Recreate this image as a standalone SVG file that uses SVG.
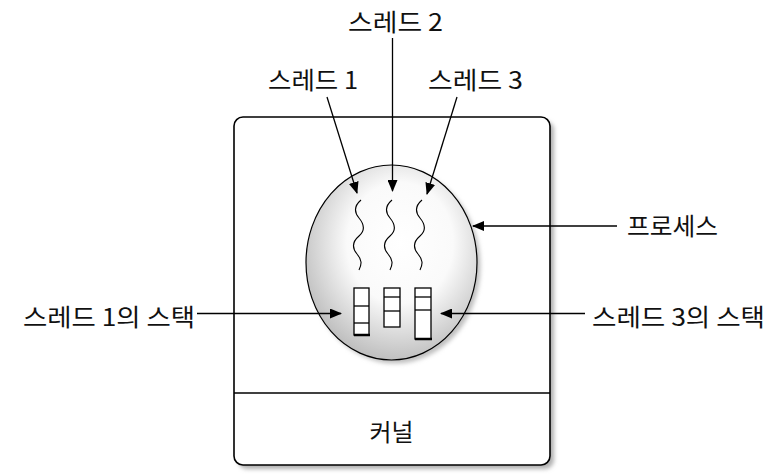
<svg xmlns="http://www.w3.org/2000/svg" width="771" height="475" viewBox="0 0 771 475">
<defs>
<style>
.lbl{font-family:"Noto Sans CJK KR","Liberation Sans",sans-serif;font-size:24px;fill:#111}
.conn{stroke:#000;stroke-width:1.3;fill:none}
.wave{stroke:#000;stroke-width:1.1;fill:none}
.stk{fill:#fff;stroke:#000;stroke-width:1.3}
</style>
<marker id="ah" markerWidth="12" markerHeight="10" refX="11" refY="5" orient="auto" markerUnits="userSpaceOnUse">
<path d="M0,0 L12,5 L0,10 Z" fill="#000"/>
</marker>
<radialGradient id="eg" cx="0.55" cy="0.4" r="0.62">
<stop offset="0" stop-color="#ffffff"/>
<stop offset="0.5" stop-color="#fafafa"/>
<stop offset="1" stop-color="#bcbcbc"/>
</radialGradient>
<filter id="blur" x="-10%" y="-10%" width="120%" height="120%">
<feGaussianBlur stdDeviation="2"/>
</filter>
</defs>
<rect width="771" height="475" fill="#fff"/>
<g id="box">
<rect x="238" y="121" width="316" height="348" rx="9" fill="#b0b0b0" filter="url(#blur)"/>
<rect x="234" y="117" width="316" height="348" rx="9" fill="#fff" stroke="#000" stroke-width="1.6"/>
<line x1="234" y1="393" x2="550" y2="393" stroke="#000" stroke-width="1.6"/>
</g>
<g id="kernel">
<text class="lbl" x="391.5" y="441" text-anchor="middle" textLength="44" lengthAdjust="spacingAndGlyphs">커널</text>
</g>
<g id="process">
<ellipse cx="395" cy="266" rx="85.5" ry="97.5" fill="#c0c0c0" filter="url(#blur)"/>
<ellipse cx="391.5" cy="262.5" rx="85.5" ry="97.5" fill="url(#eg)" stroke="#000" stroke-width="1.2"/>
</g>
<g id="threads">
<path class="wave" d="M361,200 c-7,6 -7,12 -2,18 s7,12 0,18 s-7,12 -2,18 s5,10 2,16"/>
<path class="wave" d="M392,200 c-7,6 -7,12 -2,18 s7,12 0,18 s-7,12 -2,18 s5,10 2,16"/>
<path class="wave" d="M422,200 c-7,6 -7,12 -2,18 s7,12 0,18 s-7,12 -2,18 s5,10 2,16"/>
</g>
<g id="stacks">
<rect class="stk" x="354" y="288" width="15" height="47"/>
<line x1="354" y1="335" x2="370" y2="335" stroke="#000" stroke-width="2.5"/>
<line x1="354" y1="306" x2="369" y2="306" stroke="#000" stroke-width="1.3"/>
<line x1="354" y1="323" x2="369" y2="323" stroke="#000" stroke-width="1.3"/>
<rect class="stk" x="384" y="288" width="16" height="39"/>
<line x1="384" y1="297" x2="400" y2="297" stroke="#000" stroke-width="1.3"/>
<line x1="384" y1="311" x2="400" y2="311" stroke="#000" stroke-width="1.3"/>
<rect class="stk" x="415" y="288" width="16" height="51"/>
<line x1="415" y1="339" x2="432" y2="339" stroke="#000" stroke-width="2.5"/>
<line x1="415" y1="297" x2="431" y2="297" stroke="#000" stroke-width="1.3"/>
<line x1="415" y1="310" x2="431" y2="310" stroke="#000" stroke-width="1.3"/>
</g>
<g id="connectors">
<line class="conn" x1="327" y1="97" x2="357" y2="193" marker-end="url(#ah)"/>
<line class="conn" x1="392.5" y1="38" x2="392.5" y2="191" marker-end="url(#ah)"/>
<line class="conn" x1="457" y1="97" x2="427" y2="194" marker-end="url(#ah)"/>
<line class="conn" x1="617" y1="226" x2="473" y2="226" marker-end="url(#ah)"/>
<line class="conn" x1="197" y1="313.5" x2="341" y2="313.5" marker-end="url(#ah)"/>
<line class="conn" x1="585" y1="313.5" x2="441" y2="313.5" marker-end="url(#ah)"/>
</g>
<g id="label-thread2"><text class="lbl" x="348" y="31" textLength="95" lengthAdjust="spacingAndGlyphs">스레드 2</text></g>
<g id="label-thread1"><text class="lbl" x="268" y="89" textLength="90" lengthAdjust="spacingAndGlyphs">스레드 1</text></g>
<g id="label-thread3"><text class="lbl" x="428" y="89" textLength="95" lengthAdjust="spacingAndGlyphs">스레드 3</text></g>
<g id="label-process"><text class="lbl" x="627" y="235" textLength="91" lengthAdjust="spacingAndGlyphs">프로세스</text></g>
<g id="label-stack1"><text class="lbl" x="23" y="326" textLength="172" lengthAdjust="spacingAndGlyphs">스레드 1의 스택</text></g>
<g id="label-stack3"><text class="lbl" x="592" y="326" textLength="173" lengthAdjust="spacingAndGlyphs">스레드 3의 스택</text></g>
</svg>
